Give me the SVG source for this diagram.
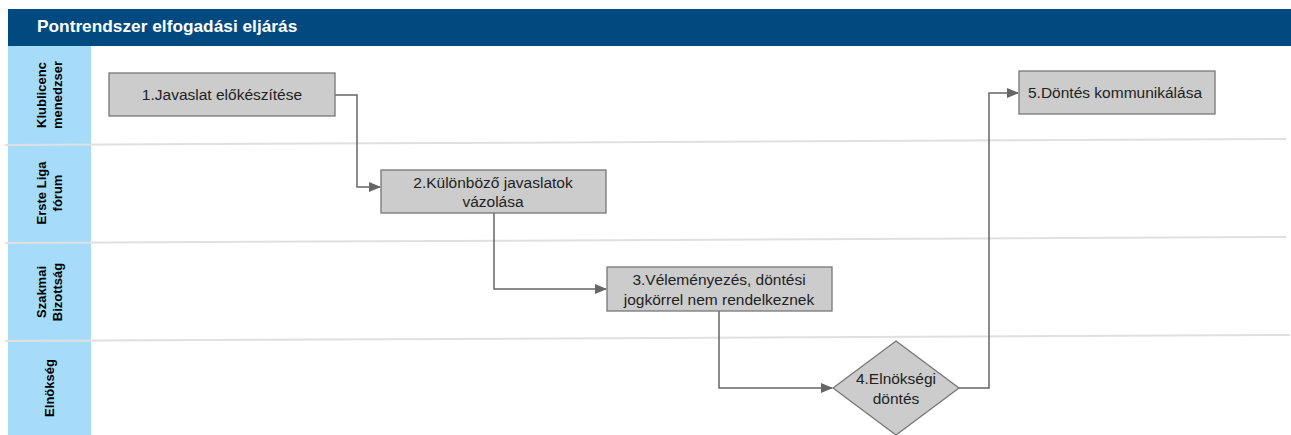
<svg xmlns="http://www.w3.org/2000/svg" width="1291" height="435" viewBox="0 0 1291 435">
<style>
.lane{fill:#a6dcf9}
.sep{stroke:#e0e0e0;stroke-width:2}
.lbl{font-family:"Liberation Sans",Arial,sans-serif;font-size:13px;font-weight:bold;fill:#000;text-anchor:middle}
.box{fill:#cccccc;stroke:#777;stroke-width:1.3}
.t{font-family:"Liberation Sans",Arial,sans-serif;font-size:15.5px;fill:#222;text-anchor:middle}
.ts{text-anchor:start}
.c{fill:none;stroke:#666;stroke-width:1.5}
</style>
<defs>
<marker id="a" markerWidth="12" markerHeight="10" refX="11" refY="5" orient="auto" markerUnits="userSpaceOnUse">
<path d="M0,0 L12,5 L0,10 Z" fill="#666"/>
</marker>
</defs>
<rect width="1291" height="435" fill="#fff"/>
<g id="header">
<rect x="8" y="9" width="1283" height="37" fill="#004a7f"/>
<text x="37" y="32" font-family="Liberation Sans,Arial,sans-serif" font-size="17.3" font-weight="bold" fill="#fff">Pontrendszer elfogadási eljárás</text>
</g>
<g id="lanes">
<rect class="lane" x="8" y="46" width="83" height="389"/>
<line class="sep" x1="5" y1="145" x2="1286" y2="139"/>
<line class="sep" x1="5" y1="243" x2="1286" y2="237"/>
<line class="sep" x1="5" y1="341" x2="1290" y2="335"/>
<text class="lbl" transform="translate(49,95) rotate(-90)"><tspan x="0" y="-3">Klublicenc</tspan><tspan x="0" y="13">menedzser</tspan></text>
<text class="lbl" transform="translate(49,193) rotate(-90)"><tspan x="0" y="-3">Erste Liga</tspan><tspan x="0" y="13">fórum</tspan></text>
<text class="lbl" transform="translate(49,292) rotate(-90)"><tspan x="0" y="-3">Szakmai</tspan><tspan x="0" y="13">Bizottság</tspan></text>
<text class="lbl" transform="translate(49,388) rotate(-90)"><tspan x="0" y="5">Elnökség</tspan></text>
</g>
<g id="connectors">
<path class="c" d="M335,95 H357 V187 H380" marker-end="url(#a)"/>
<path class="c" d="M494,213 V289 H606" marker-end="url(#a)"/>
<path class="c" d="M719,311 V388 H832" marker-end="url(#a)"/>
<path class="c" d="M959,388 H989 V93 H1018" marker-end="url(#a)"/>
</g>
<g id="n1">
<rect class="box" x="109" y="73" width="226" height="43"/>
<text class="t" x="222" y="100">1.Javaslat előkészítése</text>
</g>
<g id="n2">
<rect class="box" x="381" y="170" width="225" height="43"/>
<text class="t" x="493" y="188">2.Különböző javaslatok</text>
<text class="t" x="493" y="207">vázolása</text>
</g>
<g id="n3">
<rect class="box" x="607" y="267" width="225" height="44"/>
<text class="t" x="719" y="285">3.Véleményezés, döntési</text>
<text class="t" x="719" y="305">jogkörrel nem rendelkeznek</text>
</g>
<g id="n4">
<path class="box" d="M896,341 L959,388 L896,435 L833,388 Z"/>
<text class="t" x="896" y="384">4.Elnökségi</text>
<text class="t" x="896" y="404">döntés</text>
</g>
<g id="n5">
<rect class="box" x="1019" y="71" width="196" height="43"/>
<text class="t ts" x="1028" y="98">5.Döntés kommunikálása</text>
</g>
</svg>
